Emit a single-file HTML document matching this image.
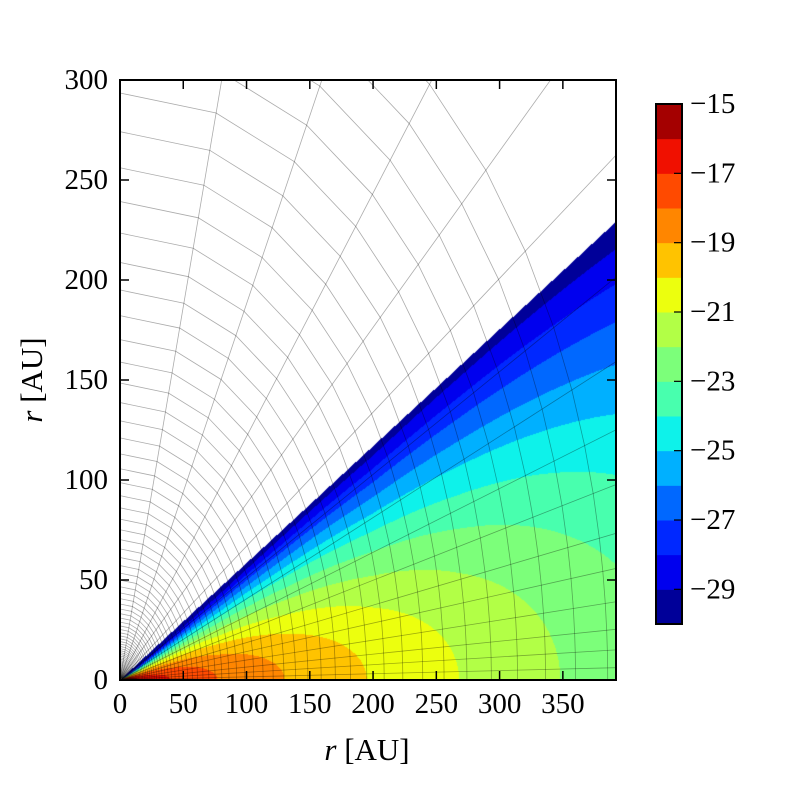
<!DOCTYPE html>
<html><head><meta charset="utf-8"><style>
html,body{margin:0;padding:0;background:#fff;}
#wrap{position:relative;width:800px;height:800px;overflow:hidden;}
canvas{position:absolute;left:120px;top:80px;}
svg{position:absolute;left:0;top:0;}
text{font-family:"Liberation Serif","DejaVu Serif",serif;fill:#000;}
</style></head><body>
<div id="wrap">
<canvas id="field" width="496" height="600"></canvas>
<svg id="svg" width="800" height="800"></svg>
</div>
<script>
// ---- data ----
const midR = [1, 15, 40, 77, 130, 195, 268, 348, 430, 520];
const midV = [-14, -16, -17, -18, -19, -20, -21, -22, -23, -24];
const hX = [1, 50, 200, 388, 500];
const hVal = [0.04, 3.6, 17.5, 39, 52];
const wedgeDeg = 30.3;
const levels = [-30,-29,-28,-27,-26,-25,-24,-23,-22,-21,-20,-19,-18,-17,-16,-15];
const bandColors = ["#000099","#0000ee","#0028ff","#0068ff","#00b0ff","#0ef2ea","#48ffae","#7cff7a","#b2ff46","#ecff0e","#ffc300","#ff8600","#ff4a00","#f01000","#a40000"];
const xTicks = [0,50,100,150,200,250,300,350];
const yTicks = [0,50,100,150,200,250,300];
const cbTicks = [-15,-17,-19,-21,-23,-25,-27,-29];
const gridThetaDeg = [0,0.9,2.2,3.7,5.7,8.1,10.6,14.0,17.7,22.1,27.2,33.8,41.4,50.6,62,75,90];
const gridR0 = 293.5, gridRatio = 1.0705, gridArcMax = 389, gridRadialMax = 520;

// ---- axes ----
const PL=120, PR=616, PT=80, PB=680, XMAX=392, YMAX=300;
const sx = v => PL + v/XMAX*(PR-PL);
const sy = v => PB - v/YMAX*(PB-PT);
const CBT=104, CBB=624, CBL=656, CBR=682;
const cy = v => CBB - (v-levels[0])/(levels[levels.length-1]-levels[0])*(CBB-CBT);

function interp(xs, ys, x){
  if(x<=xs[0]) return ys[0];
  for(let i=1;i<xs.length;i++){ if(x<=xs[i]){const t=(x-xs[i-1])/(xs[i]-xs[i-1]);return ys[i-1]+t*(ys[i]-ys[i-1]);} }
  const n=xs.length-1;const t=(x-xs[n-1])/(xs[n]-xs[n-1]);return ys[n-1]+t*(ys[n]-ys[n-1]);
}
function interpLog(xs, ys, x){
  return Math.exp(interp(xs.map(Math.log), ys.map(Math.log), Math.log(Math.max(x,1e-3))));
}
function field(x,z){
  const th = Math.atan2(z,x)*180/Math.PI;
  if(th>wedgeDeg) return null;
  const m = interp(midR, midV, x);
  const h = interpLog(hX, hVal, x);
  return m - (z*z)/(h*h)/(2*Math.LN10);
}
// ---- draw field ----
const cv=document.getElementById('field'), ctx=cv.getContext('2d');
const img=ctx.createImageData(496,600);
const rgb=bandColors.map(c=>[parseInt(c.slice(1,3),16),parseInt(c.slice(3,5),16),parseInt(c.slice(5,7),16)]);
for(let py=0;py<600;py++){for(let px=0;px<496;px++){
  const x=(px+0.5)/(PR-PL)*XMAX, z=(600-py-0.5)/(PB-PT)*YMAX;
  const v=field(x,z); const k=(py*496+px)*4;
  let c=[255,255,255];
  if(v!==null){let b=Math.floor(v-levels[0]); if(b<0)b=0; if(b>14)b=14; c=rgb[b];}
  img.data[k]=c[0];img.data[k+1]=c[1];img.data[k+2]=c[2];img.data[k+3]=255;
}}
ctx.putImageData(img,0,0);

// ---- svg ----
const NS='http://www.w3.org/2000/svg', svg=document.getElementById('svg');
function mk(tag,attrs,parent){const e=document.createElementNS(NS,tag);for(const k in attrs)e.setAttribute(k,attrs[k]);(parent||svg).appendChild(e);return e;}
const cp=mk('clipPath',{id:'pc'});
mk('rect',{x:PL,y:PT,width:PR-PL,height:PB-PT},cp);
const grid=mk('g',{'clip-path':'url(#pc)',stroke:'#000','stroke-opacity':0.33,'stroke-width':0.8,fill:'none'});


const radii=[]; {let r=gridR0; while(r*gridRatio<=gridArcMax) r*=gridRatio; for(; r>1.5; r/=gridRatio) radii.push(r);}
gridThetaDeg.forEach(t=>{const a=t*Math.PI/180;
  const l=mk('line',{x1:sx(0),y1:sy(0),x2:sx(gridRadialMax*Math.cos(a)),y2:sy(gridRadialMax*Math.sin(a))},grid);
  
  });
radii.forEach(r=>{const pts=gridThetaDeg.map(t=>{const a=t*Math.PI/180;return sx(r*Math.cos(a)).toFixed(2)+','+sy(r*Math.sin(a)).toFixed(2);}).join(' ');
  const p=mk('polyline',{points:pts},grid);
  
  });
// frame
const fr=mk('rect',{x:PL,y:PT,width:PR-PL,height:PB-PT,fill:'none',stroke:'#000','stroke-width':2});

xTicks.forEach(v=>{const x=sx(v);
  mk('line',{x1:x,y1:PB,x2:x,y2:PB-9,stroke:'#000','stroke-width':1.5});
  mk('line',{x1:x,y1:PT,x2:x,y2:PT+9,stroke:'#000','stroke-width':1.5});
  const t=mk('text',{x:x,y:713,'font-size':29,'text-anchor':'middle'});t.textContent=v;
  });
yTicks.forEach(v=>{const y=sy(v);
  mk('line',{x1:PL,y1:y,x2:PL+9,y2:y,stroke:'#000','stroke-width':1.5});
  mk('line',{x1:PR,y1:y,x2:PR-9,y2:y,stroke:'#000','stroke-width':1.5});
  const t=mk('text',{x:108,y:y+9,'font-size':29,'text-anchor':'end'});t.textContent=v;
  });
const xl=mk('text',{x:367,y:760,'font-size':31,'text-anchor':'middle'});
xl.innerHTML='<tspan font-style="italic">r</tspan> [AU]';

const yl=mk('text',{x:0,y:0,'font-size':31,'text-anchor':'middle',transform:'translate(42,380) rotate(-90)'});
yl.innerHTML='<tspan font-style="italic">r</tspan> [AU]';

// colorbar
const cb=mk('g',{});
bandColors.forEach((c,i)=>{const r=mk('rect',{x:CBL,y:cy(levels[i+1]),width:CBR-CBL,height:cy(levels[i])-cy(levels[i+1])+0.5,fill:c},cb);
  });
mk('rect',{x:CBL,y:CBT,width:CBR-CBL,height:CBB-CBT,fill:'none',stroke:'#000','stroke-width':2},cb);
cbTicks.forEach(v=>{const y=cy(v);
  mk('line',{x1:CBR,y1:y,x2:CBR-8,y2:y,stroke:'#000','stroke-width':1.2},cb);
  const t=mk('text',{x:690,y:y+9,'font-size':29},cb);t.textContent='\u2212'+Math.abs(v);
  });
</script>
</body></html>
